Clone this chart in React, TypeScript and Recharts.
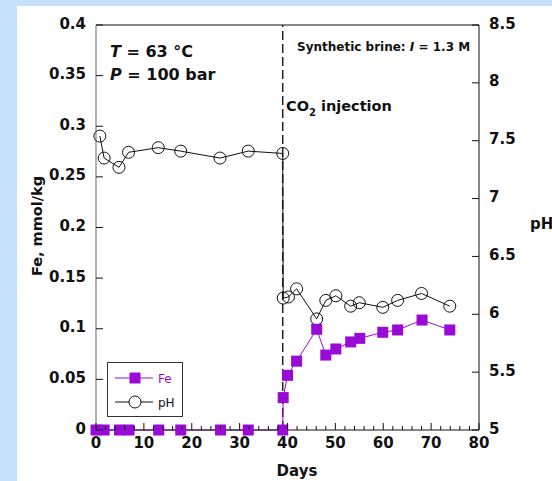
import React from "react";
import { LineChart, Line, XAxis, YAxis, ReferenceLine, Legend } from "recharts";

const FE_DAYS = [0, 1.7, 4.9, 6.9, 13.1, 17.7, 26, 31.8, 39, 39.1, 40, 41.9, 46.1, 48, 50.1, 53.2, 55.1, 59.9, 63, 68.1, 73.9];
const FE_VALUES = [0, 0, 0, 0, 0, 0, 0, 0, 0, 0.032, 0.054, 0.068, 0.0995, 0.074, 0.08, 0.087, 0.0905, 0.0965, 0.0988, 0.1086, 0.0988];

const PH_DAYS = [0.8, 1.7, 4.8, 6.8, 13, 17.7, 25.9, 31.8, 39, 39.1, 40.2, 41.9, 46.1, 48, 50.1, 53.2, 55, 59.9, 63, 68, 73.9];
const PH_VALUES = [7.54, 7.35, 7.27, 7.4, 7.44, 7.41, 7.35, 7.41, 7.39, 6.14, 6.15, 6.22, 5.96, 6.12, 6.16, 6.07, 6.1, 6.06, 6.12, 6.18, 6.07];

const DAY_TICKS = [0, 2, 4, 6, 8, 10, 12, 14, 16, 18, 20, 22, 24, 26, 28, 30, 32, 34, 36, 38, 40, 42, 44, 46, 48, 50, 52, 54, 56, 58, 60, 62, 64, 66, 68, 70, 72, 74, 76, 78, 80];
const FE_TICKS = [0, 0.05, 0.1, 0.15, 0.2, 0.25, 0.3, 0.35, 0.4];
const PH_TICKS = [5, 5.5, 6, 6.5, 7, 7.5, 8, 8.5];

const INJECTION_DAY = 39;

const feData = FE_DAYS.map((d, i) => ({ day: d, fe: FE_VALUES[i] }));
const phData = PH_DAYS.map((d, i) => ({ day: d, ph: PH_VALUES[i] }));

const W = 552;
const H = 481;
const M = { top: 25, right: 73, bottom: 51, left: 96 };
const PLOT_LEFT = M.left;
const PLOT_RIGHT = W - M.right;
const PLOT_TOP = M.top;
const PLOT_BOTTOM = H - M.bottom;

const FONT = "'DejaVu Sans', sans-serif";
const PURPLE = "#9a0ad6";
const INK = "#111";

const BottomTick = (props: any) => {
  const { x, payload } = props;
  const major = payload.value % 10 === 0;
  return (
    <g>
      <line x1={x} x2={x} y1={PLOT_BOTTOM} y2={PLOT_BOTTOM - (major ? 7 : 4)} stroke={INK} />
      {major && (
        <text x={x} y={PLOT_BOTTOM + 18} textAnchor="middle" fontFamily={FONT} fontWeight="bold" fontSize={15} fill={INK}>
          {payload.value}
        </text>
      )}
    </g>
  );
};

const TopTick = (props: any) => {
  const { x, payload } = props;
  const major = payload.value % 10 === 0;
  return <line x1={x} x2={x} y1={PLOT_TOP} y2={PLOT_TOP + (major ? 7 : 4)} stroke={INK} />;
};

const FeTick = (props: any) => {
  const { y, payload } = props;
  return (
    <g>
      <line x1={PLOT_LEFT} x2={PLOT_LEFT + 7} y1={y} y2={y} stroke={INK} />
      <text x={PLOT_LEFT - 10} y={y + 3.5} textAnchor="end" fontFamily={FONT} fontWeight="bold" fontSize={15} fill={INK}>
        {payload.value}
      </text>
    </g>
  );
};

const PhTick = (props: any) => {
  const { y, payload } = props;
  return (
    <g>
      <line x1={PLOT_RIGHT - 7} x2={PLOT_RIGHT} y1={y} y2={y} stroke={INK} />
      <text x={PLOT_RIGHT + 10} y={y + 3.5} textAnchor="start" fontFamily={FONT} fontWeight="bold" fontSize={15} fill={INK}>
        {payload.value}
      </text>
    </g>
  );
};

const SquareDot = (props: any) => {
  const { cx, cy, index } = props;
  return <rect key={`sq-${index}`} x={cx - 5.5} y={cy - 5.5} width={11} height={11} fill={PURPLE} />;
};

const CircleDot = (props: any) => {
  const { cx, cy, index } = props;
  return <circle key={`ci-${index}`} cx={cx} cy={cy} r={6} fill="none" stroke={INK} strokeWidth={1} />;
};

const LegendBox = (props: any) => {
  const items = [...(props.payload || [])].sort((a: any) => (a.value === "Fe" ? -1 : 1));
  return (
    <div style={{ width: 76, height: 55, border: "1px solid #333", background: "#fff", boxSizing: "border-box" }}>
      <svg width={74} height={53}>
        {items.map((it: any, i: number) => {
          const y = 15 + i * 24;
          const isFe = it.value === "Fe";
          const c = isFe ? PURPLE : INK;
          return (
            <g key={it.value}>
              <line x1={7} x2={45} y1={y} y2={y} stroke={c} />
              {isFe ? (
                <rect x={21.5} y={y - 5.5} width={11} height={11} fill={PURPLE} />
              ) : (
                <circle cx={27} cy={y} r={6} fill="#fff" stroke={INK} />
              )}
              <text x={50} y={y + 4.5} fontFamily={FONT} fontSize={12} fill={c}>
                {it.value}
              </text>
            </g>
          );
        })}
      </svg>
    </div>
  );
};

export default function App() {
  return (
    <div style={{ position: "absolute", left: 0, top: 0, width: W, height: H, background: "#c8e1fb" }}>
      <div style={{ position: "absolute", left: 17, top: 6, width: W - 17, height: H - 6, background: "#fff" }} />
      <div style={{ position: "absolute", left: 0, top: 0 }}>
        <LineChart width={W} height={H} margin={{ top: 0, right: 0, bottom: 0, left: 0 }}>
          <XAxis
            xAxisId="bottom"
            dataKey="day"
            type="number"
            domain={[0, 80]}
            ticks={DAY_TICKS}
            interval={0}
            height={M.bottom}
            axisLine={{ stroke: INK }}
            tickLine={false}
            tick={<BottomTick />}
          />
          <XAxis
            xAxisId="top"
            orientation="top"
            dataKey="day"
            type="number"
            domain={[0, 80]}
            ticks={DAY_TICKS}
            interval={0}
            height={M.top}
            axisLine={{ stroke: INK }}
            tickLine={false}
            tick={<TopTick />}
          />
          <YAxis
            yAxisId="fe"
            type="number"
            domain={[0, 0.4]}
            ticks={FE_TICKS}
            interval={0}
            width={M.left}
            axisLine={{ stroke: "#666" }}
            tickLine={false}
            tick={<FeTick />}
          />
          <YAxis
            yAxisId="ph"
            orientation="right"
            type="number"
            domain={[5, 8.5]}
            ticks={PH_TICKS}
            interval={0}
            width={M.right}
            axisLine={{ stroke: INK }}
            tickLine={false}
            tick={<PhTick />}
          />
          <ReferenceLine
            xAxisId="bottom"
            yAxisId="fe"
            x={INJECTION_DAY}
            stroke="#222"
            strokeWidth={1.5}
            strokeDasharray="9 4"
          />
          <Line
            name="pH"
            data={phData}
            dataKey="ph"
            xAxisId="bottom"
            yAxisId="ph"
            stroke={INK}
            strokeWidth={1}
            dot={<CircleDot />}
            isAnimationActive={false}
          />
          <Line
            name="Fe"
            data={feData}
            dataKey="fe"
            xAxisId="bottom"
            yAxisId="fe"
            stroke={PURPLE}
            strokeWidth={1}
            dot={<SquareDot />}
            isAnimationActive={false}
          />
          <Legend
            layout="horizontal"
            verticalAlign="middle"
            align="center"
            content={<LegendBox />}
            wrapperStyle={{ position: "absolute", left: 107, top: 362, width: 76, height: 55 }}
          />
        </LineChart>
      </div>
      <svg width={W} height={H} style={{ position: "absolute", left: 0, top: 0, pointerEvents: "none" }}>
        <g fontFamily={FONT} fontWeight="bold" fill={INK}>
          <text x={110} y={57} fontSize={16}>
            <tspan fontStyle="italic">T</tspan> = 63 °C
          </text>
          <text x={110} y={80} fontSize={16}>
            <tspan fontStyle="italic">P</tspan> = 100 bar
          </text>
          <text x={297} y={51} fontSize={12}>
            Synthetic brine: <tspan fontStyle="italic">I</tspan> = 1.3 M
          </text>
          <text x={286} y={111} fontSize={14.5}>
            CO<tspan fontSize={10} dy={5}>2</tspan>
            <tspan dy={-5}> injection</tspan>
          </text>
          <text transform="translate(42, 226) rotate(-90)" textAnchor="middle" fontSize={14.5}>
            Fe, mmol/kg
          </text>
          <text x={530} y={229} fontSize={15}>
            pH
          </text>
          <text x={297} y={476} textAnchor="middle" fontSize={15}>
            Days
          </text>
        </g>
      </svg>
    </div>
  );
}
